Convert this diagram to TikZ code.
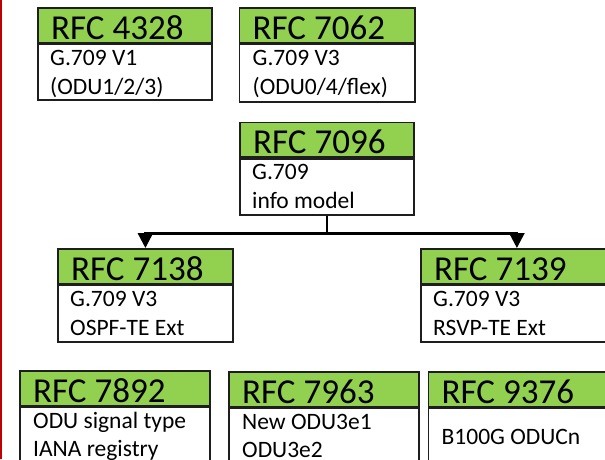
\documentclass[tikz,border=0pt]{standalone}
\usepackage{fontspec}
\setmainfont{Carlito}
\usetikzlibrary{calc,arrows.meta}

\definecolor{rfcgreen}{HTML}{92D050}
\definecolor{rfcline}{HTML}{1E1E1E}
\definecolor{edgered}{HTML}{C00000}

\tikzset{
  hdr/.style={draw=rfcline, line width=1.8pt, fill=rfcgreen, inner sep=0pt,
    minimum height=34.5pt, rectangle},
  bodybox/.style={draw=rfcline, line width=1.8pt, fill=white, inner sep=0pt, rectangle},
  hdrtxt/.style={anchor=base west, inner sep=0pt, font=\fontsize{35}{42}\selectfont, text=black},
  bodytxt/.style={anchor=base west, inner sep=0pt, font=\fontsize{23.5}{29}\selectfont, text=black},
  conn/.style={draw=black, line width=2.6pt, -{Triangle[width=15pt,length=15pt]}},
}

% RFC box: name, left, top, width, body height, title
\newcommand{\rfcbox}[6]{%
  \node[hdr, minimum width=#4pt, anchor=north west] (#1h) at (#2,#3) {};
  \node[bodybox, minimum width=#4pt, minimum height=#5pt, anchor=north west] (#1) at (#1h.south west) {};
  \node[hdrtxt] (#1t) at ($(#1h.south west)+(14,-4)$) {#6};
}

\begin{document}
\begin{tikzpicture}[x=1pt, y=-1pt]
  \useasboundingbox (0,0) rectangle (605,459);
  \clip (0,0) rectangle (605,459);
  \fill[white] (0,0) rectangle (605,459);

  % left margin rule
  \draw[edgered, line width=1.6pt] (0.8,0) -- (0.8,459);

  % top row
  \rfcbox{a}{37}{7}{174}{56}{RFC 4328}
  \node[bodytxt] (a1) at ($(a.north west)+(13,22)$) {G.709 V1};
  \node[bodytxt] (a2) at ($(a.north west)+(13,51)$) {(ODU1/2/3)};

  \rfcbox{b}{238.5}{7}{175.5}{57.5}{RFC 7062}
  \node[bodytxt] (b1) at ($(b.north west)+(14,22)$) {G.709 V3};
  \node[bodytxt] (b2) at ($(b.north west)+(14,51)$) {(ODU0/4/flex)};

  % information model
  \rfcbox{c}{239}{121.5}{174}{56}{RFC 7096}
  \node[bodytxt] (c1) at ($(c.north west)+(13,22)$) {G.709};
  \node[bodytxt] (c2) at ($(c.north west)+(13,51)$) {info model};

  % routing / signalling extensions
  \rfcbox{d}{57}{248}{175}{56.5}{RFC 7138}
  \node[bodytxt] (d1) at ($(d.north west)+(13,22)$) {G.709 V3};
  \node[bodytxt] (d2) at ($(d.north west)+(13,51)$) {OSPF-TE Ext};

  \rfcbox{e}{420}{248}{192}{56.5}{RFC 7139}
  \node[bodytxt] (e1) at ($(e.north west)+(13,22)$) {G.709 V3};
  \node[bodytxt] (e2) at ($(e.north west)+(13,51)$) {RSVP-TE Ext};

  % bottom row
  \rfcbox{f}{19}{370}{190}{80}{RFC 7892}
  \node[bodytxt] (f1) at ($(f.north west)+(14,22)$) {ODU signal type};
  \node[bodytxt] (f2) at ($(f.north west)+(14,50)$) {IANA registry};

  \rfcbox{g}{228}{371}{190}{80}{RFC 7963}
  \node[bodytxt] (g1) at ($(g.north west)+(14,22)$) {New ODU3e1};
  \node[bodytxt] (g2) at ($(g.north west)+(14,50)$) {ODU3e2};

  \rfcbox{h}{427.5}{371}{190}{80}{RFC 9376}
  \node[bodytxt] (h1) at ($(h.north west)+(14,37)$) {B100G ODUCn};

  % connectors from the info model
  \draw[conn] (c.south) -- ++(0,18) -| (dh.north);
  \draw[conn] (c.south) -- ++(0,18) -| (eh.north);
\end{tikzpicture}
\end{document}
